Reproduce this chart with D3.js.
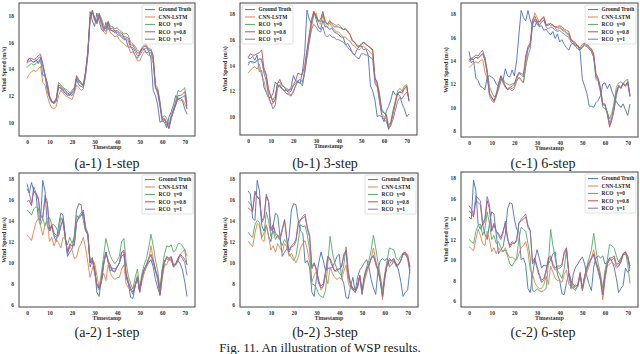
<!DOCTYPE html>
<html>
<head>
<meta charset="utf-8">
<script src="https://cdn.jsdelivr.net/npm/d3@7"></script>
<style>
  html, body { margin: 0; padding: 0; background: #fff; }
  svg { display: block; }
  .tick-label { font-family: "Liberation Serif", serif; font-weight: bold; font-size: 5.5px; fill: #333; }
  .axis-title { font-family: "Liberation Serif", serif; font-weight: bold; font-size: 6px; fill: #333; }
  .legend-text { font-family: "Liberation Serif", serif; font-weight: bold; font-size: 5.4px; fill: #222; }
  .caption { font-family: "Liberation Serif", serif; font-size: 14px; fill: #222; }
</style>
</head>
<body>
<div id="chart"></div>
<script>
(function () {
    'use strict';

    // --- labels ---
    var seriesNames = ['Ground Truth', 'CNN-LSTM', 'RCO|\u03b3=0', 'RCO|\u03b3=0.8', 'RCO|\u03b3=1'];
    var seriesColors = ['#4c72b0', '#dd8452', '#55a868', '#c44e52', '#8172b3'];
    var xTicks = [0, 10, 20, 30, 40, 50, 60, 70];
    var yTicksTop = [10, 12, 14, 16, 18];
    var yTicksTopC = [8, 10, 12, 14, 16, 18];
    var yTicksBottom = [6, 8, 10, 12, 14, 16, 18];
    var captions = ['(a-1) 1-step', '(b-1) 3-step', '(c-1) 6-step', '(a-2) 1-step', '(b-2) 3-step', '(c-2) 6-step'];
    var figCaption = 'Fig. 11. An illustration of WSP results.';

    // --- (a-1) ---
    var gtA1 = [14.5,14.8,14.6,14.5,14.7,14.4,14.8,13.5,13.6,12.3,11.9,11.5,
        11.5,11.8,12.7,12.5,12.3,12.2,12.0,12.1,12.0,12.3,13.2,12.8,
        12.7,12.6,13.5,15.0,18.3,17.6,17.2,18.2,17.6,17.0,16.8,17.5,
        17.0,17.0,16.8,16.9,16.6,16.5,16.4,16.2,16.2,15.6,15.7,15.4,
        15.0,14.8,15.2,15.5,15.5,15.2,15.3,14.8,12.4,12.0,11.3,10.0,
        10.1,10.0,9.6,10.4,10.8,11.3,12.0,11.7,11.8,11.6,11.0,10.6];
    var cnnA1 = [13.3,13.6,13.8,13.9,13.8,14.0,14.2,13.0,12.8,12.0,11.4,11.1,
        11.0,11.2,12.0,12.4,12.2,12.0,11.9,11.8,11.7,12.2,12.8,12.6,
        12.4,12.5,13.6,15.2,17.6,18.4,17.6,17.4,18.0,17.3,16.8,16.6,
        17.2,16.7,16.6,16.4,16.5,16.2,16.0,15.9,15.7,15.7,15.2,15.3,
        15.0,14.6,14.6,15.0,15.3,15.2,15.0,15.0,14.4,12.6,12.1,11.2,
        10.1,10.2,9.8,9.6,10.3,10.8,11.3,11.8,11.6,11.7,11.4,11.0];
    var rco0A1 = [14.1,14.3,14.4,14.3,14.4,14.6,14.5,14.2,13.4,13.0,12.0,11.6,
        11.5,11.8,13.0,12.8,12.6,12.5,12.4,12.2,12.4,12.6,13.3,13.1,
        12.9,12.8,13.8,15.4,17.8,18.3,17.9,17.6,18.2,17.8,17.3,17.1,
        17.6,17.2,17.2,17.0,17.1,16.9,16.8,16.6,16.7,16.5,16.0,15.9,
        15.7,15.4,15.3,15.6,15.8,15.8,15.5,15.5,15.0,12.8,12.6,11.6,
        10.3,10.5,10.3,9.8,10.6,11.0,11.6,12.4,12.3,12.4,12.6,11.5];
    var rco08A1 = [14.6,14.8,14.8,14.7,14.8,15.0,15.1,14.4,13.6,12.9,11.9,11.6,
        11.4,11.6,12.8,12.7,12.5,12.4,12.2,12.1,12.3,12.5,13.5,13.2,
        13.0,12.8,13.8,15.3,17.8,18.4,17.8,17.5,18.1,17.6,17.1,17.0,
        17.5,17.0,17.1,16.8,16.9,16.7,16.7,16.4,16.4,16.3,15.8,15.8,
        15.5,15.2,15.2,15.5,15.7,15.7,15.4,15.4,14.9,12.7,12.4,11.4,
        10.2,10.3,10.0,9.6,10.4,10.9,11.4,12.0,12.0,12.1,12.3,11.2];
    var rco1A1 = [14.4,14.6,14.6,14.5,14.6,14.8,14.9,14.3,13.5,12.7,11.8,11.5,
        11.4,11.6,12.6,12.6,12.4,12.3,12.1,12.0,12.2,12.4,13.4,13.0,
        12.9,12.7,13.7,15.2,17.9,18.2,17.7,17.4,18.0,17.5,17.0,16.8,
        17.4,16.9,16.9,16.7,16.8,16.6,16.5,16.3,16.3,16.1,15.6,15.6,
        15.3,15.0,15.0,15.3,15.5,15.6,15.3,15.2,14.7,12.6,12.3,11.3,
        10.1,10.2,9.9,9.5,10.3,10.8,11.3,11.8,11.8,11.9,12.0,11.0];

    // --- (b-1) ---
    var gtB1 = [14.6,14.5,14.7,14.4,14.8,13.5,13.6,12.3,11.9,11.5,11.5,11.8,
        12.7,12.5,12.3,12.2,12.0,12.1,12.0,12.3,13.2,12.8,12.7,12.6,
        13.5,15.0,18.3,17.6,17.2,18.2,17.6,17.0,16.8,17.5,17.0,17.0,
        16.8,16.9,16.6,16.5,16.4,16.2,16.2,15.6,15.7,15.4,15.0,14.8,
        15.2,15.5,15.5,15.2,15.3,14.8,12.4,12.0,11.3,10.0,10.1,10.0,
        9.6,10.4,10.8,11.3,12.0,11.7,11.8,11.6,11.0,10.6,10.0,10.2];
    var cnnB1 = [13.4,13.6,13.8,13.9,13.7,14.1,13.2,12.8,12.0,11.5,11.0,11.0,
        11.4,12.5,12.4,12.2,12.0,11.8,11.8,11.7,11.9,12.4,12.8,12.6,
        12.5,13.4,14.8,16.0,17.0,17.9,18.1,17.4,17.2,17.9,17.2,17.0,
        17.3,17.0,16.8,16.6,16.6,16.4,16.2,16.2,16.0,15.9,15.6,15.5,
        15.3,15.2,15.4,15.5,15.3,15.2,15.0,14.8,12.8,12.4,11.3,10.2,
        10.0,9.8,9.2,9.6,10.4,11.2,11.8,12.0,11.8,12.2,12.3,11.3];
    var rco0B1 = [14.2,14.3,14.2,14.2,14.4,14.5,14.4,13.6,13.2,12.0,11.6,11.3,
        11.6,12.6,12.7,12.4,12.3,12.2,12.1,12.1,12.4,12.6,12.8,12.6,
        12.4,13.6,15.0,16.2,17.3,18.1,17.9,17.5,17.4,18.0,17.5,17.2,
        17.5,17.3,17.2,17.1,17.2,17.0,16.8,16.9,16.7,16.4,16.0,15.8,
        15.6,15.5,15.7,15.8,15.6,15.5,15.3,15.2,13.0,12.7,11.8,10.6,
        10.3,10.2,9.3,9.6,10.5,11.2,12.0,12.2,12.0,12.4,12.5,11.2];
    var rco08B1 = [14.6,14.9,14.8,14.8,14.9,15.0,15.2,13.8,13.3,12.2,11.6,11.1,
        11.3,12.6,12.9,12.5,12.3,12.0,11.9,12.0,12.5,12.8,13.4,13.3,
        13.3,14.0,15.2,16.4,17.6,18.2,17.8,17.4,17.6,18.2,17.4,17.2,
        17.4,17.2,17.0,17.0,17.0,16.9,16.8,16.8,16.6,16.4,15.9,15.8,
        15.5,15.4,15.6,15.8,15.7,15.5,15.4,15.2,13.0,12.6,11.6,10.4,
        10.3,10.1,9.0,9.4,10.2,11.0,11.8,11.9,11.9,12.2,12.4,11.2];
    var rco1B1 = [14.0,14.3,14.3,14.2,14.4,14.5,14.5,13.4,12.8,11.7,11.1,10.6,
        10.9,12.2,12.5,12.2,12.0,11.8,11.7,11.6,12.0,12.4,12.8,12.9,
        12.7,13.5,14.6,15.8,16.8,17.2,17.0,16.7,16.6,17.0,16.4,16.2,
        16.4,16.2,16.2,16.0,16.0,15.9,15.8,15.6,15.4,15.2,15.0,14.8,
        14.6,14.5,14.9,14.9,14.8,14.8,14.6,14.5,12.6,12.3,11.2,10.1,
        9.8,9.6,9.1,9.3,9.8,10.5,11.2,11.5,11.4,11.7,11.9,11.5];

    // --- (c-1) ---
    var gtC1 = [14.8,13.8,14.0,12.5,12.3,11.8,11.7,11.5,12.6,12.7,12.6,12.4,
        12.0,11.8,12.7,12.3,13.3,12.7,12.6,13.2,12.7,14.0,16.2,18.3,
        17.7,17.4,18.3,17.5,17.0,16.9,17.4,16.9,17.0,16.6,16.7,16.4,
        16.2,16.5,15.9,16.3,15.6,15.8,15.4,15.1,14.9,15.4,15.5,15.3,
        15.3,14.8,12.4,11.8,11.2,10.1,10.1,10.0,10.4,10.6,11.0,12.0,
        12.1,11.6,12.0,11.4,10.9,10.5,10.2,10.0,10.3,9.8,9.3,10.3];
    var cnnC1 = [13.4,13.6,13.8,13.9,13.8,14.0,14.1,13.0,12.5,11.2,10.8,10.6,
        11.0,11.8,12.5,12.1,11.7,11.5,11.6,11.4,11.6,12.2,12.6,12.4,
        12.1,13.5,15.0,15.5,17.2,18.1,17.7,17.3,17.5,17.8,17.0,17.2,
        17.0,17.1,16.8,16.6,16.8,16.6,16.5,16.3,16.2,15.7,15.6,15.3,
        15.0,14.9,15.2,15.5,15.4,15.1,15.0,14.5,12.6,12.4,11.5,10.3,
        10.1,9.6,8.7,9.2,10.2,11.4,11.8,11.7,12.0,11.8,12.1,11.0];
    var rco0C1 = [14.0,14.2,14.1,14.3,14.2,14.4,14.6,14.3,13.2,11.8,11.3,10.9,
        11.0,11.5,12.2,12.4,12.1,12.0,11.9,12.0,12.1,12.3,12.5,12.3,
        12.1,13.5,14.4,15.0,17.0,17.6,17.4,17.1,17.3,17.5,17.0,17.1,
        17.2,17.0,16.9,16.8,16.9,16.7,16.6,16.4,16.3,15.8,15.6,15.4,
        15.3,15.0,15.2,15.4,15.3,15.1,14.8,14.3,12.4,12.2,11.3,10.0,
        9.9,9.6,9.0,9.5,10.4,11.7,12.1,12.2,12.0,12.3,12.4,11.0];
    var rco08C1 = [14.1,14.2,14.3,14.5,14.4,14.7,14.9,14.2,13.0,11.2,10.9,10.5,
        11.2,12.0,12.7,12.3,11.8,11.5,11.7,11.8,12.0,12.6,13.0,12.9,
        12.8,14.4,15.2,15.5,17.5,17.8,17.4,17.3,17.6,17.7,17.1,17.0,
        17.2,17.0,16.9,16.9,17.0,16.9,16.7,16.6,16.5,15.8,15.7,15.5,
        15.2,15.1,15.4,15.5,15.4,15.2,15.0,14.6,12.9,12.5,11.7,10.3,
        10.3,9.5,8.3,8.9,9.8,11.2,11.9,11.7,12.1,11.9,12.2,11.0];
    var rco1C1 = [13.9,14.1,14.1,14.3,14.2,14.4,14.6,14.0,12.9,11.0,10.6,10.4,
        10.9,11.8,12.5,12.2,11.8,11.6,11.7,11.6,11.8,12.4,12.9,12.8,
        12.6,14.2,15.0,15.3,17.2,17.5,17.1,17.0,17.3,17.5,16.9,16.7,
        16.9,16.8,16.6,16.5,16.6,16.4,16.3,16.1,16.0,15.6,15.4,15.2,
        15.0,14.9,15.1,15.3,15.2,15.0,14.8,14.3,12.7,12.3,11.5,10.2,
        10.2,9.4,8.5,9.0,9.8,11.0,11.8,11.6,12.0,11.8,12.1,10.9];

    // --- (a-2) ---
    var gtA2 = [17.5,16.6,17.6,16.8,16.5,14.2,14.0,17.8,16.8,13.5,13.0,13.5,
        12.5,12.0,13.5,14.7,14.5,12.5,10.6,11.0,11.3,12.5,15.0,15.6,
        15.5,14.0,13.0,12.8,10.0,10.2,9.5,7.2,6.8,8.5,10.0,11.0,
        10.2,9.2,9.5,9.4,9.6,10.0,10.6,10.8,8.6,8.0,6.7,6.6,
        7.8,8.6,7.2,8.6,9.3,9.6,10.0,10.3,9.6,8.4,7.6,7.0,
        9.3,10.2,10.4,10.2,10.4,9.6,9.8,10.2,9.9,9.3,8.2,6.8];
    var cnnA2 = [12.6,12.4,12.1,13.0,13.8,14.2,13.5,12.6,13.6,13.9,12.0,12.4,
        11.6,12.2,11.9,11.4,12.4,12.2,11.0,11.5,11.2,10.4,10.5,11.4,
        11.8,12.4,11.4,10.0,8.6,9.4,10.0,8.8,7.7,8.3,9.0,8.3,
        9.8,9.0,8.6,8.4,8.6,8.6,9.4,9.8,8.0,7.6,7.4,7.6,
        8.0,8.8,7.2,8.2,9.0,9.6,10.2,11.6,10.4,9.3,8.7,6.9,
        8.4,9.8,9.8,10.4,10.1,9.8,9.9,10.4,10.8,11.0,11.3,10.6];
    var rco0A2 = [15.0,14.8,14.5,15.1,15.3,15.2,13.6,14.2,13.5,14.2,14.3,13.6,
        13.6,13.3,12.8,14.3,13.8,12.2,11.7,12.4,11.8,12.5,14.5,14.2,
        14.4,14.8,13.0,12.6,10.2,10.5,9.2,8.0,7.6,9.0,10.6,12.3,
        11.4,10.6,10.2,9.9,10.2,10.6,12.0,12.3,10.0,8.7,8.0,7.5,
        8.6,9.4,7.6,9.0,9.8,10.4,11.4,12.7,11.6,10.3,9.2,7.6,
        9.4,10.8,11.6,11.5,11.7,11.0,11.2,11.8,11.8,11.6,11.2,9.8];
    var rco08A2 = [15.8,15.9,15.4,16.8,16.5,16.0,14.5,14.3,16.0,15.6,13.2,13.6,
        12.8,12.6,12.6,13.4,14.0,12.4,11.0,11.8,11.6,11.8,13.8,14.3,
        14.5,14.8,13.2,12.6,10.0,10.4,9.4,8.0,7.6,8.2,9.8,11.0,
        10.2,9.8,9.2,9.2,9.6,10.0,11.0,11.2,9.0,8.2,7.6,7.2,
        7.8,8.6,7.3,8.6,9.4,9.8,10.4,10.8,10.2,9.4,8.6,7.0,
        9.0,10.0,10.6,10.4,10.6,9.8,9.9,10.4,10.8,10.6,10.3,9.8];
    var rco1A2 = [17.0,16.6,15.6,17.2,16.6,16.2,14.4,14.2,16.4,15.8,13.0,13.4,
        12.6,12.4,12.5,13.5,14.2,12.4,10.8,11.6,11.6,11.6,13.8,14.4,
        14.7,15.0,13.4,12.8,9.6,10.2,9.0,7.8,7.4,8.1,9.8,11.0,
        10.0,9.6,9.2,9.1,9.6,10.0,11.0,11.0,8.8,8.0,7.4,7.0,
        7.8,8.6,7.2,8.5,9.4,9.8,10.4,10.7,10.0,9.2,8.4,6.9,
        8.8,10.0,10.5,10.4,10.5,9.6,9.8,10.2,10.7,10.4,10.0,8.8];

    // --- (b-2) ---
    var gtB2 = [16.8,16.5,14.2,14.0,17.8,16.8,13.5,13.0,13.5,12.5,12.0,13.5,
        14.7,14.5,12.5,10.6,11.0,11.3,12.5,15.0,15.6,15.5,14.0,13.0,
        12.8,10.0,10.2,9.5,7.2,6.8,8.5,10.0,11.0,10.2,9.2,9.5,
        9.4,9.6,10.0,10.6,10.8,8.6,8.0,6.7,6.6,7.8,8.6,7.2,
        8.6,9.3,9.6,10.0,10.3,9.6,8.4,7.6,7.0,9.3,10.2,10.4,
        10.2,10.4,9.6,9.8,10.2,9.9,9.3,8.2,6.8,7.2,7.4,9.4];
    var cnnB2 = [12.0,11.8,11.5,12.8,13.7,13.5,12.2,12.0,13.6,12.5,11.2,11.6,
        11.0,11.8,11.4,11.0,11.8,11.5,10.6,10.9,10.4,10.0,10.5,11.4,
        11.8,12.1,11.2,10.0,8.2,8.8,9.2,8.4,7.4,7.8,8.8,8.0,
        9.6,9.0,8.6,8.4,8.6,8.4,9.2,9.8,8.0,7.6,7.4,7.6,
        7.8,8.8,7.0,8.2,9.0,9.6,10.4,11.4,10.2,9.2,8.4,6.5,
        8.4,9.8,9.8,10.2,10.0,9.8,9.8,10.2,10.8,10.9,10.8,9.6];
    var rco0B2 = [12.9,12.6,12.4,13.6,14.0,13.8,12.4,12.8,14.8,14.0,12.5,13.0,
        12.2,12.6,12.2,11.6,12.2,11.8,10.8,10.5,10.2,10.6,12.0,13.6,
        13.4,13.5,12.6,11.2,8.0,7.9,7.6,7.0,6.8,6.7,7.4,10.0,
        12.5,11.0,10.0,9.4,9.0,8.8,9.8,11.5,9.2,8.0,7.4,7.2,
        7.8,8.8,7.4,8.8,9.6,10.2,11.2,12.6,11.4,10.0,8.8,7.4,
        9.0,10.2,11.4,11.3,11.2,10.4,10.2,10.6,10.9,10.8,10.4,9.4];
    var rco08B2 = [15.2,15.0,14.8,16.6,16.2,16.0,14.0,14.3,16.3,15.8,13.2,13.6,
        12.8,12.6,12.4,13.2,14.0,12.2,11.2,11.6,11.8,12.2,13.8,14.1,
        14.2,14.4,13.2,12.4,9.6,10.0,9.4,8.2,7.8,8.0,9.2,10.6,
        10.4,9.8,9.2,9.4,9.4,9.6,10.8,11.2,8.8,8.0,7.6,7.4,
        7.8,8.8,7.2,8.6,9.4,9.8,10.4,10.6,10.0,9.4,8.4,6.8,
        8.8,9.8,10.4,10.2,10.4,9.8,9.8,10.2,10.9,11.0,10.6,9.6];
    var rco1B2 = [15.8,15.6,15.0,16.8,16.2,16.2,13.8,14.2,16.5,15.8,13.0,13.4,
        12.6,12.4,12.2,13.0,14.1,12.2,11.0,11.5,11.6,12.0,13.6,14.0,
        14.4,14.6,13.4,12.6,9.4,9.9,9.2,8.0,7.6,7.8,9.0,10.6,
        10.2,9.6,9.2,9.2,9.4,9.6,10.6,11.0,8.6,7.8,7.4,7.2,
        7.6,8.6,7.0,8.5,9.3,9.8,10.4,10.7,9.8,9.2,8.2,6.8,
        8.6,9.8,10.2,10.2,10.3,9.6,9.8,10.2,10.8,10.8,10.4,9.0];

    // --- (c-2) ---
    var gtC2 = [14.2,14.0,17.8,16.8,13.5,13.0,13.5,12.5,12.0,13.5,14.7,14.5,
        12.5,10.6,11.0,11.3,12.5,15.0,15.6,15.5,14.0,13.0,12.8,10.0,
        10.2,9.5,7.2,6.8,8.5,10.0,11.0,10.2,9.2,9.5,9.4,9.6,
        10.0,10.6,10.8,8.6,8.0,6.7,6.6,7.8,8.6,7.2,8.6,9.3,
        9.6,10.0,10.3,9.6,8.4,7.6,7.0,9.3,10.2,10.4,10.2,10.4,
        9.6,9.8,10.2,9.9,9.3,8.2,6.8,7.2,7.5,9.2,8.8,9.0];
    var cnnC2 = [11.3,11.1,10.9,12.0,13.0,12.4,11.6,11.4,12.8,12.0,10.8,11.2,
        10.6,11.2,10.9,10.8,11.2,10.6,10.2,10.3,10.1,10.0,10.6,11.2,
        11.4,11.8,10.8,9.0,8.6,7.8,7.4,7.2,7.2,7.6,8.4,7.6,
        9.4,8.8,8.2,8.0,8.0,7.8,8.6,9.0,7.6,7.4,7.2,7.6,
        7.4,8.6,7.0,8.0,8.8,9.4,10.2,11.0,9.8,8.8,8.0,6.1,
        8.0,9.4,9.6,9.8,9.6,9.2,9.4,9.8,10.6,10.6,10.4,9.2];
    var rco0C2 = [12.0,11.8,11.6,12.8,13.4,13.5,12.4,13.0,14.7,13.6,12.0,12.4,
        11.6,11.8,11.2,10.8,11.0,10.4,9.6,9.4,9.8,10.2,12.0,13.2,
        13.0,12.8,11.6,10.2,7.0,6.9,7.2,7.0,6.9,7.0,7.2,9.6,
        13.0,11.4,10.2,9.0,8.6,8.2,9.2,11.0,8.8,7.6,7.2,7.0,
        7.6,8.6,7.2,8.4,9.4,10.2,11.0,12.6,11.0,9.6,8.6,7.2,
        9.0,10.0,11.5,11.4,11.2,10.4,9.8,10.2,10.6,10.8,9.6,7.7];
    var rco08C2 = [14.8,14.6,14.2,15.8,15.6,15.4,13.4,13.8,15.8,15.0,12.8,13.4,
        12.8,12.6,12.2,12.8,13.6,12.0,11.4,11.8,11.6,12.0,13.6,13.8,
        14.0,14.2,13.2,12.8,9.8,10.2,9.4,8.6,8.0,8.2,9.0,10.2,
        10.4,9.6,9.2,9.4,9.4,9.6,10.8,11.2,8.8,8.0,7.6,7.4,
        7.6,8.8,7.2,8.4,9.2,9.8,10.2,10.6,9.8,9.2,8.2,6.6,
        8.6,9.6,10.2,10.2,10.4,9.6,9.6,10.0,10.6,10.8,10.4,9.4];
    var rco1C2 = [15.3,15.0,14.4,16.3,16.0,15.8,13.6,14.0,16.2,15.4,13.0,13.6,
        12.8,12.4,12.0,12.6,13.8,12.2,11.2,11.6,11.6,11.8,13.6,14.0,
        14.2,14.5,13.4,12.9,9.6,10.0,9.2,8.4,7.8,8.0,8.8,10.0,
        10.2,9.4,9.0,9.2,9.2,9.4,10.6,11.0,8.6,7.8,7.4,7.2,
        7.4,8.6,7.0,8.3,9.1,9.7,10.1,10.5,9.6,9.0,8.0,6.6,
        8.4,9.6,10.0,10.0,10.2,9.4,9.4,9.8,10.5,10.6,10.2,9.0];

    var width = 640,
        height = 354;

    // frame box, y range and legend side for each subplot
    var panels = [
        { series: [gtA1, cnnA1, rco0A1, rco08A1, rco1A1], box: [19, 3, 195, 136], yDomain: [8.97, 18.95], yTicks: yTicksTop, legend: 'right' },
        { series: [gtB1, cnnB1, rco0B1, rco08B1, rco1B1], box: [240, 3, 417, 135], yDomain: [8.57, 18.86], yTicks: yTicksTop, legend: 'left' },
        { series: [gtC1, cnnC1, rco0C1, rco08C1, rco1C1], box: [461, 3, 638, 137], yDomain: [7.46, 18.94], yTicks: yTicksTopC, legend: 'right' },
        { series: [gtA2, cnnA2, rco0A2, rco08A2, rco1A2], box: [19, 173, 195, 307], yDomain: [5.8, 18.5], yTicks: yTicksBottom, legend: 'right' },
        { series: [gtB2, cnnB2, rco0B2, rco08B2, rco1B2], box: [240, 173, 418, 307], yDomain: [5.8, 18.5], yTicks: yTicksBottom, legend: 'right' },
        { series: [gtC2, cnnC2, rco0C2, rco08C2, rco1C2], box: [461, 172, 638, 307], yDomain: [5.4, 18.6], yTicks: yTicksBottom, legend: 'right' }
    ];

    var svg = d3.select('#chart').append('svg')
        .attr('width', width)
        .attr('height', height);

    function drawPanel(p, i) {
        var b = p.box,
            g = svg.append('g').attr('class', 'panel-' + i);

        var x = d3.scaleLinear().domain([-3.55, 74.55]).range([b[0], b[2]]);
        var y = d3.scaleLinear().domain(p.yDomain).range([b[3], b[1]]);

        var line = d3.line()
            .x(function (d, k) { return x(k); })
            .y(function (d) { return y(d); });

        g.append('defs').append('clipPath')
            .attr('id', 'clip-' + i)
            .append('rect')
            .attr('x', b[0]).attr('y', b[1])
            .attr('width', b[2] - b[0]).attr('height', b[3] - b[1]);

        var lines = g.append('g').attr('clip-path', 'url(#clip-' + i + ')');
        p.series.forEach(function (values, s) {
            lines.append('path')
                .datum(values)
                .attr('d', line)
                .style('fill', 'none')
                .style('stroke', seriesColors[s])
                .style('stroke-width', 0.9)
                .style('stroke-linejoin', 'round');
        });

        // axes without tick marks, only labels (seaborn white look)
        var xAxis = d3.axisBottom(x).tickValues(xTicks).tickSize(0).tickPadding(4);
        var yAxis = d3.axisLeft(y).tickValues(p.yTicks).tickSize(0).tickPadding(5);

        g.append('g')
            .attr('transform', 'translate(0,' + b[3] + ')')
            .call(xAxis)
            .call(function (a) { a.select('.domain').remove(); })
            .selectAll('text').attr('class', 'tick-label');

        g.append('g')
            .attr('transform', 'translate(' + b[0] + ',0)')
            .call(yAxis)
            .call(function (a) { a.select('.domain').remove(); })
            .selectAll('text').attr('class', 'tick-label');

        g.append('rect')
            .attr('x', b[0]).attr('y', b[1])
            .attr('width', b[2] - b[0]).attr('height', b[3] - b[1])
            .style('fill', 'none')
            .style('stroke', '#555')
            .style('stroke-width', 1.1);

        g.append('text')
            .attr('class', 'axis-title')
            .attr('x', (b[0] + b[2]) / 2)
            .attr('y', b[3] + 13)
            .attr('text-anchor', 'middle')
            .text('Timestamp');

        g.append('text')
            .attr('class', 'axis-title')
            .attr('transform', 'translate(' + (b[0] - 13) + ',' + ((b[1] + b[3]) / 2) + ') rotate(-90)')
            .attr('text-anchor', 'middle')
            .text('Wind Speed (m/s)');

        drawLegend(g, p, b);
    }

    function drawLegend(g, p, b) {
        var lw = 51, lh = 39,
            lx = p.legend === 'left' ? b[0] + 2 : b[2] - lw - 2,
            ly = b[1] + 2,
            leg = g.append('g').attr('transform', 'translate(' + lx + ',' + ly + ')');

        leg.append('rect')
            .attr('width', lw).attr('height', lh)
            .attr('rx', 1.5)
            .style('fill', '#fff')
            .style('fill-opacity', 0.85)
            .style('stroke', '#ccc')
            .style('stroke-width', 0.6);

        seriesNames.forEach(function (name, s) {
            var cy = 4.6 + s * 7.4,
                parts = name.split('|');
            leg.append('line')
                .attr('x1', 3).attr('x2', 13)
                .attr('y1', cy).attr('y2', cy)
                .style('stroke', seriesColors[s])
                .style('stroke-width', 1);
            var t = leg.append('text')
                .attr('class', 'legend-text')
                .attr('x', 16.5).attr('y', cy)
                .attr('dy', '0.35em');
            t.append('tspan').text(parts[0]);
            // the reference leaves a wide gap between "RCO" and the gamma value
            if (parts.length > 1) {
                t.append('tspan').attr('dx', 3.2).text(parts[1]);
            }
        });
    }

    panels.forEach(drawPanel);

    var captionCenters = [107, 325, 543];
    captions.forEach(function (c, i) {
        svg.append('text')
            .attr('class', 'caption')
            .attr('x', captionCenters[i % 3])
            .attr('y', i < 3 ? 168 : 337)
            .attr('text-anchor', 'middle')
            .text(c);
    });

    svg.append('text')
        .attr('class', 'caption')
        .attr('x', 320)
        .attr('y', 352)
        .attr('text-anchor', 'middle')
        .style('font-size', '13px')
        .text(figCaption);
})();
</script>
</body>
</html>
